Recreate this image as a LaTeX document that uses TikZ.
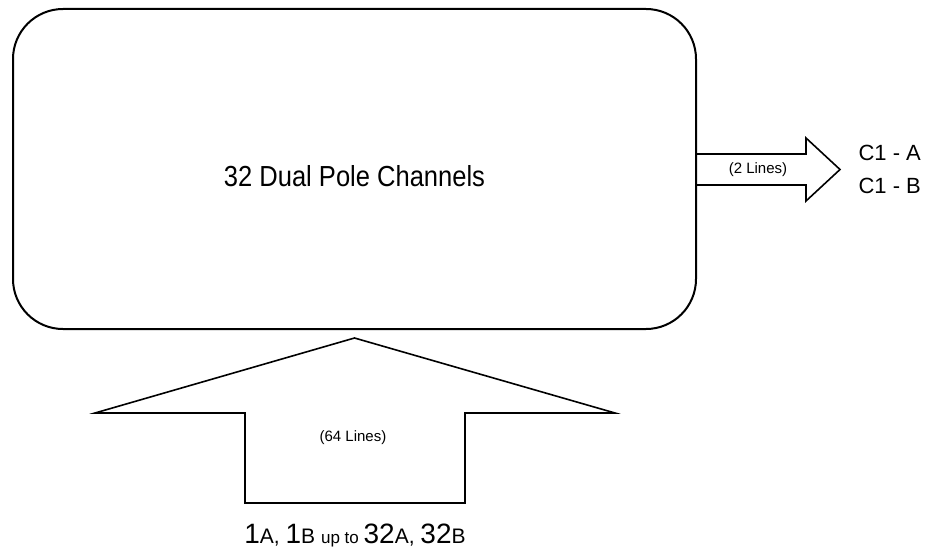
\documentclass[tikz,border=0pt]{standalone}
\usepackage{fontspec}
\setmainfont{Liberation Sans}
\newfontfamily\narrowfont[FakeStretch=0.88]{Liberation Sans}
\usetikzlibrary{positioning,calc}

\newcommand{\bigfig}[1]{{\fontsize{28}{32}\selectfont #1}}
\newcommand{\midfig}[1]{{\fontsize{21}{24}\selectfont #1}}
\newcommand{\smallfig}[1]{{\fontsize{17}{20}\selectfont #1}}

\begin{document}
\begin{tikzpicture}[x=1pt,y=-1pt,
    chanbox/.style={draw,line width=2pt,rounded corners=50pt},
    blockarrow/.style={draw,line width=1.6pt,line join=miter},
    lines/.style={font=\fontsize{15}{18}\selectfont}]
    \useasboundingbox (0,0) rectangle (926,551);
    \node[chanbox,minimum width=683pt,minimum height=320pt] (chan) at (354.5,169) {};
    \node[font=\narrowfont\fontsize{29}{34}\selectfont] (title) at (354.5,176) {32 Dual Pole Channels};

    % output arrow (2 lines)
    \coordinate (outtip) at (840,169.5);
    \draw[blockarrow] (chan.east |- 0,154) -- (806,154) -- (806,138) -- (outtip)
        -- (806,201) -- (806,185) -- (chan.east |- 0,185);
    \node[lines] (outlines) at (758,170) {(2 Lines)};
    \node[anchor=base west,font=\fontsize{22}{26}\selectfont] (outA) at (855,160) {C1 - A};
    \node[anchor=base west,font=\fontsize{22}{26}\selectfont] (outB) at (855,193) {C1 - B};

    % input arrow (64 lines)
    \coordinate (intip) at ([yshift=-8pt]chan.south);
    \draw[blockarrow] (intip) -- (615,413) -- (465,413) -- (465,503) -- (245,503)
        -- (245,413) -- (95,413) -- cycle;
    \node[lines] (inlines) at (353,438) {(64 Lines)};
    \node[anchor=base] (inputs) at (355,543)
        {\bigfig{1}\midfig{A, }\bigfig{1}\midfig{B }\smallfig{up to }\bigfig{32}\midfig{A, }\bigfig{32}\midfig{B}};
\end{tikzpicture}
\end{document}
